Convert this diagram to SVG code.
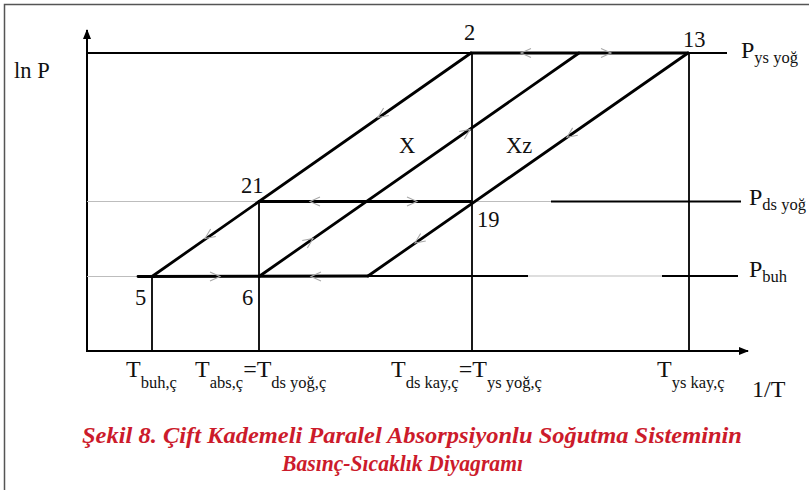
<svg xmlns="http://www.w3.org/2000/svg" xmlns:xlink="http://www.w3.org/1999/xlink" width="809" height="490" viewBox="0 0 809 490">
<style>
text{font-family:'Liberation Serif','DejaVu Serif',serif;fill:#111;}
.n{font-size:22.5px;}
.big{font-size:24px;}
.sub{font-size:16.5px;}
.ax{stroke:#000;stroke-width:2;fill:none;}
.thk{stroke:#000;stroke-width:2.8;fill:none;stroke-linecap:round;}
.med{stroke:#000;stroke-width:1.8;fill:none;}
.gr{stroke:#bdbdbd;stroke-width:1;fill:none;}
.cap{font-weight:bold;font-style:italic;font-size:23px;fill:#cc1b2b;}
</style>
<defs>
<path id="chev" d="M10,-4.5 L0,0 L10,4.5" fill="none" stroke="#a8a8a8" stroke-width="1.1"/>
<marker id="ah" markerWidth="10" markerHeight="8" refX="9" refY="4" orient="auto" markerUnits="userSpaceOnUse">
<path d="M0,0 L10,4 L0,8 Z" fill="#000"/>
</marker>
</defs>
<rect width="809" height="490" fill="#fff"/>
<path d="M4.5,490 V4.5 H809" fill="none" stroke="#555" stroke-width="1.5"/>

<g id="axes">
<line class="ax" x1="87" y1="351" x2="87" y2="30" marker-end="url(#ah)"/>
<line class="ax" x1="86" y1="351" x2="748" y2="351" marker-end="url(#ah)"/>
</g>

<g id="connectors">
<line class="med" x1="87" y1="53" x2="471" y2="53"/>
<line class="thk" x1="471" y1="53" x2="688" y2="53"/>
<line class="med" x1="688" y1="53" x2="727" y2="53"/>
<line class="gr" x1="87" y1="201.5" x2="259" y2="201.5"/>
<line class="thk" x1="259" y1="201.5" x2="471" y2="201.5"/>
<line class="gr" x1="471" y1="201.5" x2="551" y2="201.5"/>
<line class="med" x1="551" y1="201.5" x2="741" y2="201.5"/>
<line class="gr" x1="87" y1="276.5" x2="138" y2="276.5"/>
<line class="thk" x1="138" y1="276.5" x2="368" y2="276"/>
<line class="med" x1="368" y1="276" x2="528" y2="276"/>
<line class="gr" x1="528" y1="276" x2="662" y2="276"/>
<line class="med" x1="662" y1="276" x2="738" y2="276"/>
<line class="med" x1="152" y1="276" x2="152" y2="351"/>
<line class="med" x1="259" y1="201" x2="259" y2="351"/>
<line class="med" x1="472" y1="53" x2="472" y2="351"/>
<line class="med" x1="689" y1="53" x2="689" y2="351"/>
<line class="thk" x1="152" y1="276.5" x2="471" y2="53"/>
<line class="thk" x1="259" y1="276.5" x2="579" y2="53"/>
<line class="thk" x1="368" y1="276" x2="688" y2="53"/>
</g>

<g id="flow-arrows">
<use xlink:href="#chev" transform="translate(521,53)"/>
<use xlink:href="#chev" transform="translate(611,53) rotate(180)"/>
<use xlink:href="#chev" transform="translate(378,117.5) rotate(-34.9)"/>
<use xlink:href="#chev" transform="translate(205,238.5) rotate(-34.9)"/>
<use xlink:href="#chev" transform="translate(313,238.5) rotate(145.1)"/>
<use xlink:href="#chev" transform="translate(470,129.5) rotate(145.1)"/>
<use xlink:href="#chev" transform="translate(567,137.3) rotate(-34.9)"/>
<use xlink:href="#chev" transform="translate(415,243) rotate(-34.9)"/>
<use xlink:href="#chev" transform="translate(310,201.5)"/>
<use xlink:href="#chev" transform="translate(417,201.5) rotate(180)"/>
<use xlink:href="#chev" transform="translate(220,276.5) rotate(180)"/>
<use xlink:href="#chev" transform="translate(311,276.5)"/>
</g>

<g id="node-2"><text class="n" x="464" y="40">2</text></g>
<g id="node-13"><text class="n" x="683" y="47">13</text></g>
<g id="node-21"><text class="n" x="241" y="193">21</text></g>
<g id="node-19"><text class="n" x="477" y="227">19</text></g>
<g id="node-5"><text class="n" x="135" y="305">5</text></g>
<g id="node-6"><text class="n" x="242" y="305">6</text></g>
<g id="region-X"><text class="n" x="399" y="153">X</text></g>
<g id="region-Xz"><text class="n" x="506" y="153">Xz</text></g>

<g id="labels">
<text class="n" x="14" y="78">ln P</text>
<text class="big" x="741" y="58">P<tspan class="sub" dy="5">ys yoğ</tspan></text>
<text class="big" x="749" y="205">P<tspan class="sub" dy="5">ds yoğ</tspan></text>
<text class="big" x="749" y="277">P<tspan class="sub" dy="5">buh</tspan></text>
<text class="big" x="126" y="377">T<tspan class="sub" dy="11">buh,ç</tspan></text>
<text class="big" x="195" y="377">T<tspan class="sub" dy="11">abs,ç</tspan><tspan dy="-11">=T</tspan><tspan class="sub" dy="11">ds yoğ,ç</tspan></text>
<text class="big" x="391" y="377">T<tspan class="sub" dy="11">ds kay,ç</tspan><tspan dy="-11">=T</tspan><tspan class="sub" dy="11">ys yoğ,ç</tspan></text>
<text class="big" x="657" y="377">T<tspan class="sub" dy="11">ys kay,ç</tspan></text>
<text class="big" x="752" y="397">1/T</text>
</g>

<g id="caption">
<text class="cap" x="82" y="443" textLength="660" lengthAdjust="spacingAndGlyphs">Şekil 8. Çift Kademeli Paralel Absorpsiyonlu Soğutma Sisteminin</text>
<text class="cap" x="282" y="471" textLength="241" lengthAdjust="spacingAndGlyphs">Basınç-Sıcaklık Diyagramı</text>
</g>
</svg>
